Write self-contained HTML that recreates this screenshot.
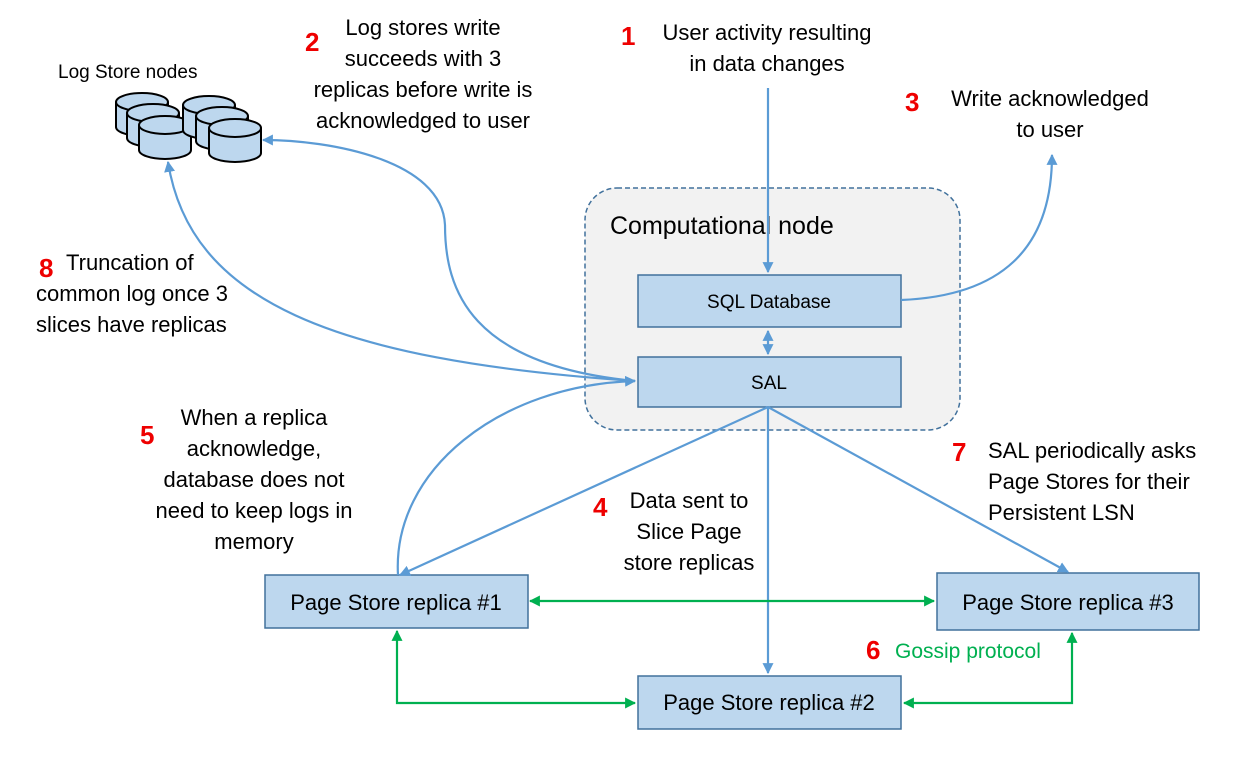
<!DOCTYPE html>
<html><head><meta charset="utf-8"><style>
body{margin:0;background:#fff;}
svg text{font-family:"Liberation Sans",sans-serif;}
</style></head><body>
<svg width="1244" height="775" viewBox="0 0 1244 775" xmlns="http://www.w3.org/2000/svg">
<defs>
<marker id="b" viewBox="0 0 10 10" refX="9" refY="5" markerWidth="5" markerHeight="5" orient="auto-start-reverse"><path d="M0,0 L10,5 L0,10z" fill="#5b9bd5"/></marker>
<marker id="g" viewBox="0 0 10 10" refX="9" refY="5" markerWidth="5" markerHeight="5" orient="auto-start-reverse"><path d="M0,0 L10,5 L0,10z" fill="#00b050"/></marker>
<g id="cyl">
<path d="M0,9 L0,34 A26,9 0 0 0 52,34 L52,9" fill="#bdd7ee" stroke="#000" stroke-width="2"/>
<ellipse cx="26" cy="9" rx="26" ry="9" fill="#bdd7ee" stroke="#000" stroke-width="2"/>
</g>
</defs>
<rect x="585" y="188" width="375" height="242" rx="32" fill="#f2f2f2" stroke="#41719c" stroke-width="1.5" stroke-dasharray="5,3"/>
<text x="610" y="234" font-size="25">Computational node</text>
<rect x="638" y="275" width="263" height="52" fill="#bdd7ee" stroke="#41719c" stroke-width="1.5"/>
<text x="769" y="308" font-size="19" text-anchor="middle">SQL Database</text>
<rect x="638" y="357" width="263" height="50" fill="#bdd7ee" stroke="#41719c" stroke-width="1.5"/>
<text x="769" y="389" font-size="19" text-anchor="middle">SAL</text>
<rect x="265" y="575" width="263" height="53" fill="#bdd7ee" stroke="#41719c" stroke-width="1.5"/>
<text x="396" y="610" font-size="22" text-anchor="middle">Page Store replica #1</text>
<rect x="937" y="573" width="262" height="57" fill="#bdd7ee" stroke="#41719c" stroke-width="1.5"/>
<text x="1068" y="610" font-size="22" text-anchor="middle">Page Store replica #3</text>
<rect x="638" y="676" width="263" height="53" fill="#bdd7ee" stroke="#41719c" stroke-width="1.5"/>
<text x="769" y="710" font-size="22" text-anchor="middle">Page Store replica #2</text>
<use href="#cyl" x="116" y="93"/><use href="#cyl" x="127" y="104"/><use href="#cyl" x="139" y="116"/>
<use href="#cyl" x="183" y="96"/><use href="#cyl" x="196" y="107"/><use href="#cyl" x="209" y="119"/>
<g fill="none" stroke="#5b9bd5" stroke-width="2.2">
<path d="M768,88 L768,272" marker-end="url(#b)"/>
<path d="M768,331 L768,354" marker-end="url(#b)" marker-start="url(#b)"/>
<path d="M768,407 L768,673" marker-end="url(#b)"/>
<path d="M768,407 L400,575" marker-end="url(#b)"/>
<path d="M768,407 L1068,572" marker-end="url(#b)"/>
<path d="M398,575 C392,470 500,385 635,381" marker-end="url(#b)"/>
<path d="M635,381 C470,365 445,290 445,225 C442,160 330,140 263,140" marker-end="url(#b)"/>
<path d="M635,381 C330,360 190,300 168,162" marker-end="url(#b)"/>
<path d="M901,300 C1000,296 1052,250 1052,155" marker-end="url(#b)"/>
</g>
<g fill="none" stroke="#00b050" stroke-width="2.2">
<path d="M530,601 L934,601" marker-end="url(#g)" marker-start="url(#g)"/>
<path d="M397,631 L397,703 L635,703" marker-end="url(#g)" marker-start="url(#g)"/>
<path d="M1072,633 L1072,703 L904,703" marker-end="url(#g)" marker-start="url(#g)"/>
</g>
<g font-size="22" fill="#000">
<text x="58" y="78" font-size="19">Log Store nodes</text>
<text x="423" y="35" text-anchor="middle">Log stores write</text>
<text x="423" y="66" text-anchor="middle">succeeds with 3</text>
<text x="423" y="97" text-anchor="middle">replicas before write is</text>
<text x="423" y="128" text-anchor="middle">acknowledged to user</text>
<text x="767" y="40" text-anchor="middle">User activity resulting</text>
<text x="767" y="71" text-anchor="middle">in data changes</text>
<text x="1050" y="106" text-anchor="middle">Write acknowledged</text>
<text x="1050" y="137" text-anchor="middle">to user</text>
<text x="66" y="270">Truncation of</text>
<text x="36" y="301">common log once 3</text>
<text x="36" y="332">slices have replicas</text>
<text x="254" y="425" text-anchor="middle">When a replica</text>
<text x="254" y="456" text-anchor="middle">acknowledge,</text>
<text x="254" y="487" text-anchor="middle">database does not</text>
<text x="254" y="518" text-anchor="middle">need to keep logs in</text>
<text x="254" y="549" text-anchor="middle">memory</text>
<text x="689" y="508" text-anchor="middle">Data sent to</text>
<text x="689" y="539" text-anchor="middle">Slice Page</text>
<text x="689" y="570" text-anchor="middle">store replicas</text>
<text x="988" y="458">SAL periodically asks</text>
<text x="988" y="489">Page Stores for their</text>
<text x="988" y="520">Persistent LSN</text>
<text x="895" y="658" fill="#00b050" font-size="21">Gossip protocol</text>
</g>
<g font-size="26" font-weight="bold" fill="#e00">
<text x="305" y="51">2</text>
<text x="621" y="45">1</text>
<text x="905" y="111">3</text>
<text x="39" y="277">8</text>
<text x="140" y="444">5</text>
<text x="593" y="516">4</text>
<text x="952" y="461">7</text>
<text x="866" y="659">6</text>
</g>
</svg>
</body></html>
